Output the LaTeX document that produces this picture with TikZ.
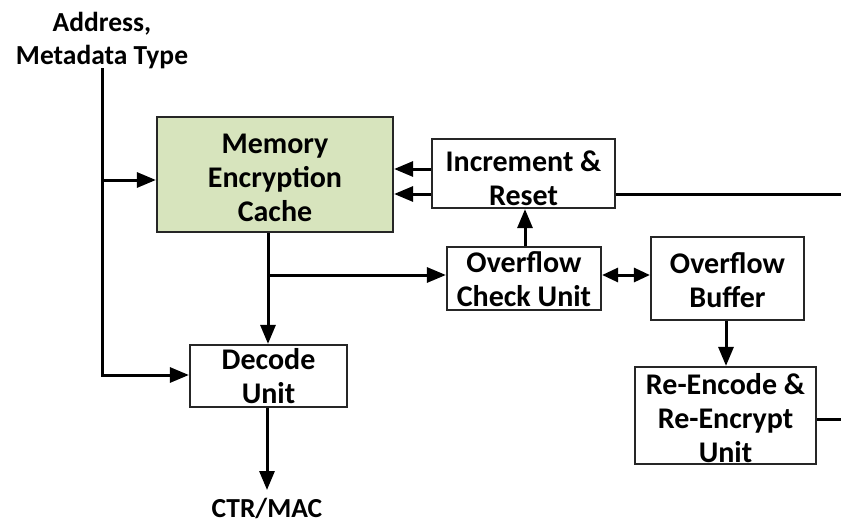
\documentclass[tikz,border=0pt]{standalone}
\usepackage{fontspec}
\setmainfont{Carlito}
\usetikzlibrary{arrows.meta}
\begin{document}
\begin{tikzpicture}[x=1pt,y=-1pt,
  box/.style={draw=black!85, line width=2.2pt, inner sep=0pt},
  txt/.style={font=\bfseries\fontsize{30}{34}\selectfont, align=center, inner sep=0pt},
  lbl/.style={font=\bfseries\fontsize{27.5}{33}\selectfont, align=center, inner sep=0pt},
  conn/.style={line width=3pt},
  arr/.style={conn, -{Triangle[length=19pt,width=15pt]}},
  darr/.style={conn, {Triangle[length=16pt,width=14pt]}-{Triangle[length=16pt,width=14pt]}}]
\useasboundingbox (0,0) rectangle (841,525);
% boxes
\node[box, fill={rgb,255:red,215;green,228;blue,189}, minimum width=236pt, minimum height=115pt] (mec) at (275,174.5) {};
\node[box, minimum width=183pt, minimum height=69pt] (inc) at (523.5,173.5) {};
\node[box, minimum width=154pt, minimum height=63pt] (ocu) at (524,278.5) {};
\node[box, minimum width=153pt, minimum height=83pt] (ob) at (727.5,278.5) {};
\node[box, minimum width=181pt, minimum height=97pt] (re) at (725.5,415.5) {};
\node[box, minimum width=157pt, minimum height=62pt] (dec) at (268.5,376) {};
% texts
\node[txt] (mect) at (275,178) {Memory\\Encryption\\Cache};
\node[txt] (inct) at (523.5,178) {Increment \&\\Reset};
\node[txt] (ocut) at (524,279) {Overflow\\Check Unit};
\node[txt] (obt) at (727.5,280) {Overflow\\Buffer};
\node[txt] (ret) at (725.5,418) {Re-Encode \&\\Re-Encrypt\\Unit};
\node[txt] (dect) at (268.5,376) {Decode\\Unit};
\node[lbl] (addr) at (102,41) {Address,\\Metadata Type};
\node[lbl] (ctr) at (267,508) {CTR/MAC};
% coordinates
\coordinate (atop) at (102,68);
\coordinate (abr) at (102,180);
\coordinate (acorner) at (102,375);
\coordinate (mbr) at (268,275);
\coordinate (ctrtip) at (267,490);
\coordinate (incout) at (841,194);
\coordinate (reout) at (841,419);
% connectors
\draw[arr] (atop) -- (acorner) -- (acorner -| dec.west);
\draw[arr] (abr) -- (abr -| mec.west);
\draw[arr] (mec.south -| mbr) -- (mbr |- dec.north);
\draw[arr] (mbr) -- (mbr -| ocu.west);
\draw[arr] (inc.west |- 0,169) -- (mec.east |- 0,169);
\draw[arr] (inc.west |- 0,194) -- (mec.east |- 0,194);
\draw[conn] (inc.east |- incout) -- (incout);
\draw[arr] (ocu.north -| 525,0) -- (inc.south -| 525,0);
\draw[darr] (ocu.east |- 0,275) -- (ob.west |- 0,275);
\draw[arr] (ob.south -| 726,0) -- (re.north -| 726,0);
\draw[conn] (re.east |- reout) -- (reout);
\draw[arr] (dec.south -| ctrtip) -- (ctrtip);
\end{tikzpicture}
\end{document}
